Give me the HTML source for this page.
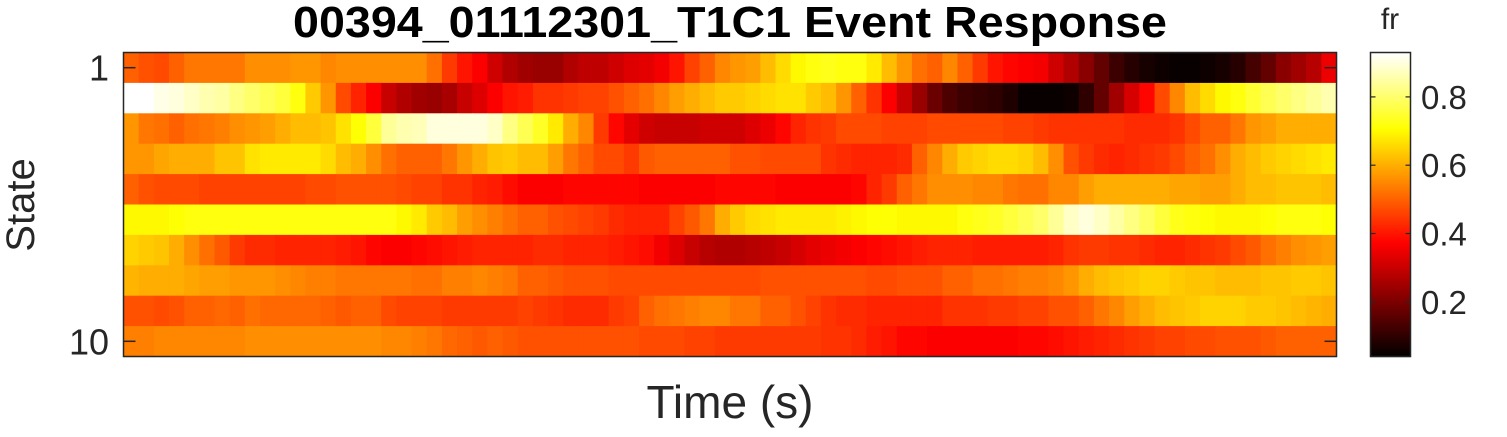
<!DOCTYPE html>
<html><head><meta charset="utf-8"><style>
body{margin:0;background:#fff;width:1507px;height:432px;overflow:hidden;font-family:"Liberation Sans",Arial,sans-serif}
</style></head><body>
<svg id="chart" width="1507" height="432" xmlns="http://www.w3.org/2000/svg" font-family="Liberation Sans, Arial, sans-serif">
<text x="730" y="37" text-anchor="middle" font-size="44" font-weight="bold" textLength="874" lengthAdjust="spacingAndGlyphs">00394_01112301_T1C1 Event Response</text>
<g id="cells"></g>
<rect x="123.5" y="52.5" width="1213" height="304" fill="none" stroke="#262626" stroke-width="1.5"/>
<g id="yticks"></g>
<text transform="translate(34,205) rotate(-90)" text-anchor="middle" font-size="40" fill="#262626">State</text>
<text x="730" y="418" text-anchor="middle" font-size="46" fill="#262626">Time (s)</text>
<g id="cbar"></g>
<text x="1390" y="29" text-anchor="middle" font-size="30" fill="#262626">fr</text>
</svg>
<script>
const states=[1,2,3,4,5,6,7,8,9,10];
const yTickLabels=["1","10"];
const cbTicks=[0.2,0.4,0.6,0.8];
const cmin=0.04, cmax=0.93;
const row1=[0.5,0.48,0.47,0.5,0.53,0.53,0.53,0.53,0.56,0.56,0.56,0.57,0.57,0.55,0.56,0.56,0.56,0.56,0.56,0.56,0.52,0.45,0.4,0.37,0.31,0.27,0.25,0.24,0.24,0.27,0.29,0.29,0.31,0.33,0.34,0.36,0.4,0.46,0.5,0.55,0.57,0.58,0.62,0.66,0.7,0.72,0.73,0.72,0.72,0.68,0.62,0.57,0.52,0.5,0.55,0.5,0.45,0.4,0.38,0.37,0.36,0.31,0.27,0.22,0.17,0.12,0.09,0.07,0.06,0.05,0.05,0.06,0.07,0.09,0.13,0.17,0.22,0.25,0.28,0.35];
const row2=[0.93,0.93,0.91,0.9,0.88,0.86,0.85,0.82,0.8,0.78,0.76,0.72,0.64,0.57,0.47,0.42,0.37,0.3,0.27,0.25,0.24,0.26,0.3,0.33,0.37,0.4,0.41,0.44,0.44,0.45,0.46,0.46,0.48,0.5,0.52,0.55,0.58,0.6,0.62,0.64,0.64,0.65,0.66,0.67,0.67,0.64,0.62,0.57,0.5,0.44,0.37,0.3,0.24,0.18,0.14,0.12,0.11,0.1,0.08,0.05,0.05,0.05,0.06,0.1,0.17,0.25,0.32,0.38,0.47,0.55,0.62,0.66,0.7,0.72,0.75,0.78,0.8,0.82,0.84,0.86];
const row3=[0.57,0.53,0.52,0.5,0.52,0.53,0.54,0.56,0.57,0.58,0.6,0.62,0.62,0.63,0.67,0.71,0.76,0.84,0.86,0.87,0.9,0.9,0.9,0.9,0.88,0.82,0.78,0.74,0.68,0.6,0.55,0.45,0.38,0.34,0.31,0.3,0.3,0.3,0.31,0.31,0.31,0.33,0.35,0.38,0.42,0.44,0.45,0.47,0.47,0.47,0.46,0.46,0.46,0.47,0.47,0.47,0.47,0.47,0.46,0.46,0.45,0.44,0.44,0.44,0.44,0.44,0.43,0.43,0.43,0.44,0.47,0.5,0.5,0.53,0.57,0.58,0.6,0.6,0.6,0.6];
const row4=[0.57,0.57,0.59,0.6,0.6,0.6,0.63,0.63,0.67,0.68,0.68,0.68,0.68,0.66,0.62,0.6,0.56,0.52,0.5,0.5,0.5,0.53,0.57,0.6,0.63,0.64,0.62,0.62,0.58,0.53,0.5,0.47,0.47,0.45,0.49,0.5,0.5,0.5,0.5,0.5,0.48,0.48,0.47,0.47,0.47,0.47,0.44,0.43,0.42,0.42,0.42,0.43,0.5,0.55,0.6,0.64,0.65,0.66,0.66,0.65,0.62,0.56,0.48,0.45,0.43,0.42,0.43,0.44,0.45,0.47,0.5,0.52,0.56,0.6,0.62,0.64,0.65,0.66,0.67,0.68];
const row5=[0.5,0.48,0.47,0.47,0.47,0.46,0.46,0.46,0.46,0.46,0.46,0.46,0.47,0.47,0.48,0.48,0.48,0.48,0.47,0.46,0.46,0.44,0.44,0.42,0.41,0.39,0.37,0.37,0.37,0.38,0.38,0.38,0.38,0.38,0.37,0.37,0.37,0.37,0.37,0.38,0.38,0.38,0.38,0.37,0.37,0.37,0.37,0.37,0.38,0.42,0.45,0.5,0.53,0.56,0.56,0.56,0.55,0.55,0.53,0.52,0.52,0.55,0.55,0.58,0.6,0.6,0.6,0.6,0.6,0.59,0.59,0.58,0.58,0.6,0.62,0.62,0.63,0.63,0.63,0.62];
const row6=[0.7,0.7,0.7,0.71,0.72,0.72,0.72,0.72,0.72,0.72,0.72,0.72,0.72,0.72,0.72,0.72,0.72,0.72,0.7,0.68,0.64,0.62,0.58,0.56,0.54,0.52,0.5,0.5,0.48,0.47,0.46,0.45,0.43,0.42,0.42,0.42,0.46,0.49,0.53,0.6,0.64,0.66,0.67,0.68,0.68,0.68,0.68,0.69,0.7,0.71,0.71,0.7,0.7,0.7,0.7,0.72,0.73,0.74,0.76,0.78,0.8,0.84,0.88,0.9,0.88,0.85,0.82,0.79,0.76,0.73,0.72,0.71,0.7,0.7,0.7,0.71,0.72,0.72,0.72,0.71];
const row7=[0.65,0.64,0.63,0.6,0.56,0.52,0.49,0.45,0.43,0.43,0.42,0.42,0.42,0.42,0.41,0.4,0.38,0.37,0.37,0.38,0.39,0.4,0.41,0.42,0.42,0.42,0.42,0.43,0.43,0.42,0.42,0.42,0.41,0.4,0.39,0.36,0.33,0.3,0.28,0.27,0.27,0.28,0.29,0.3,0.32,0.34,0.35,0.36,0.37,0.38,0.39,0.4,0.41,0.42,0.42,0.42,0.41,0.41,0.41,0.41,0.41,0.42,0.44,0.45,0.45,0.44,0.44,0.43,0.42,0.42,0.43,0.44,0.45,0.47,0.49,0.52,0.54,0.56,0.57,0.58];
const row8=[0.61,0.6,0.6,0.6,0.59,0.58,0.58,0.57,0.57,0.57,0.56,0.55,0.54,0.54,0.53,0.53,0.53,0.53,0.53,0.52,0.52,0.54,0.54,0.55,0.54,0.53,0.5,0.5,0.49,0.48,0.48,0.48,0.47,0.47,0.47,0.47,0.47,0.47,0.47,0.47,0.47,0.47,0.48,0.48,0.48,0.48,0.48,0.48,0.48,0.47,0.47,0.48,0.48,0.48,0.5,0.5,0.52,0.52,0.53,0.54,0.54,0.55,0.57,0.6,0.62,0.63,0.64,0.65,0.65,0.64,0.63,0.63,0.62,0.62,0.62,0.63,0.63,0.64,0.64,0.63];
const row9=[0.48,0.48,0.47,0.48,0.5,0.5,0.51,0.5,0.52,0.51,0.51,0.51,0.51,0.5,0.49,0.5,0.5,0.47,0.46,0.46,0.46,0.45,0.45,0.45,0.45,0.45,0.46,0.45,0.44,0.43,0.43,0.43,0.45,0.46,0.5,0.52,0.53,0.54,0.55,0.55,0.53,0.53,0.5,0.5,0.48,0.46,0.44,0.43,0.43,0.42,0.42,0.42,0.42,0.42,0.44,0.44,0.44,0.45,0.45,0.46,0.46,0.48,0.48,0.5,0.53,0.55,0.58,0.6,0.62,0.63,0.64,0.65,0.65,0.65,0.64,0.64,0.63,0.62,0.61,0.6];
const row10=[0.54,0.54,0.55,0.55,0.55,0.55,0.55,0.55,0.56,0.56,0.56,0.56,0.56,0.56,0.56,0.56,0.56,0.55,0.55,0.54,0.53,0.51,0.5,0.49,0.5,0.49,0.48,0.48,0.48,0.48,0.48,0.48,0.48,0.48,0.47,0.47,0.47,0.46,0.46,0.45,0.45,0.45,0.45,0.45,0.45,0.45,0.44,0.44,0.43,0.41,0.4,0.38,0.38,0.37,0.37,0.37,0.37,0.37,0.37,0.38,0.38,0.39,0.4,0.41,0.42,0.43,0.44,0.45,0.46,0.46,0.47,0.47,0.48,0.48,0.48,0.49,0.5,0.5,0.5,0.5];
const rows=[row1,row2,row3,row4,row5,row6,row7,row8,row9,row10];

const NS="http://www.w3.org/2000/svg";
const PL=123.5,PR=1336.5,PT=52.5,PB=356.5;
const nCols=row1.length;
const xScale=i=>PL+(PR-PL)*i/nCols;
const yScale=s=>PT+(PB-PT)*(s-0.5)/states.length;
function hot(v){
  let t=(v-cmin)/(cmax-cmin);t=Math.max(0,Math.min(1,t));
  const r=Math.min(1,t/0.375),g=Math.max(0,Math.min(1,(t-0.375)/0.375)),b=Math.max(0,Math.min(1,(t-0.75)/0.25));
  return `rgb(${Math.round(r*255)},${Math.round(g*255)},${Math.round(b*255)})`;
}
const cells=document.getElementById('cells');
rows.forEach((row,ri)=>{
  row.forEach((v,ci)=>{
    const r=document.createElementNS(NS,'rect');
    
    
    const x0=xScale(ci),x1=xScale(ci+1),y0=yScale(states[ri]-0.5),y1=yScale(states[ri]+0.5);
    r.setAttribute('x',x0);r.setAttribute('y',y0);
    r.setAttribute('width',x1-x0+0.6);r.setAttribute('height',y1-y0+0.6);
    r.setAttribute('fill',hot(v));
    cells.appendChild(r);
  });
});
const yt=document.getElementById('yticks');
yTickLabels.forEach(l=>{
  const y=yScale(+l);
  const t=document.createElementNS(NS,'text');
  
  
  t.setAttribute('x',109);t.setAttribute('y',y+13);t.setAttribute('text-anchor','end');
  t.setAttribute('font-size','36');t.setAttribute('fill','#262626');t.textContent=l;yt.appendChild(t);
  [[PL,PL+12],[PR-12,PR]].forEach(([a,b])=>{
    const ln=document.createElementNS(NS,'line');
    
    
    ln.setAttribute('x1',a);ln.setAttribute('x2',b);ln.setAttribute('y1',y);ln.setAttribute('y2',y);
    ln.setAttribute('stroke','#262626');ln.setAttribute('stroke-width','1.5');yt.appendChild(ln);
  });
});
const cb=document.getElementById('cbar');
const CL=1370.5,CR=1410.5;
const cbY=v=>PB-(PB-PT)*(v-cmin)/(cmax-cmin);
for(let i=0;i<200;i++){
  const v0=cmin+(cmax-cmin)*i/200,v1=cmin+(cmax-cmin)*(i+1)/200;
  const r=document.createElementNS(NS,'rect');
  
  
  r.setAttribute('x',CL);r.setAttribute('width',CR-CL);
  r.setAttribute('y',cbY(v1));r.setAttribute('height',cbY(v0)-cbY(v1)+0.6);
  r.setAttribute('fill',hot((v0+v1)/2));cb.appendChild(r);
}
const fr=document.createElementNS(NS,'rect');


fr.setAttribute('x',CL);fr.setAttribute('y',PT);fr.setAttribute('width',CR-CL);fr.setAttribute('height',PB-PT);
fr.setAttribute('fill','none');fr.setAttribute('stroke','#262626');fr.setAttribute('stroke-width','1.5');cb.appendChild(fr);
cbTicks.forEach(v=>{
  const y=cbY(v);
  const t=document.createElementNS(NS,'text');
  
  
  t.setAttribute('x',1421);t.setAttribute('y',y+12);t.setAttribute('font-size','33');t.setAttribute('fill','#262626');
  t.textContent=v.toFixed(1);cb.appendChild(t);
  [[CL,CL+5],[CR-5,CR]].forEach(([a,b])=>{
    const ln=document.createElementNS(NS,'line');
    
    
    ln.setAttribute('x1',a);ln.setAttribute('x2',b);ln.setAttribute('y1',y);ln.setAttribute('y2',y);
    ln.setAttribute('stroke','#262626');ln.setAttribute('stroke-width','1.2');cb.appendChild(ln);
  });
});
</script>
</body></html>
